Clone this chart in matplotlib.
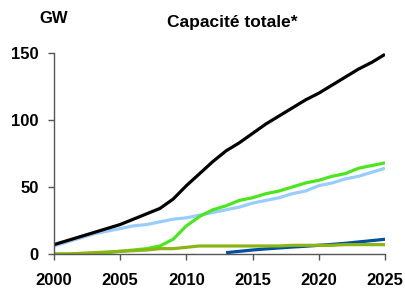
import numpy as np
from matplotlib import pyplot as plt

plt.rcParams['font.family'] = ['Liberation Sans', 'DejaVu Sans']
plt.rcParams['font.weight'] = 'bold'

years = np.arange(2000, 2026)

total = [7, 10, 13, 16, 19, 22, 26, 30, 34, 41, 51, 60, 69, 77, 83, 90,
         97, 103, 109, 115, 120, 126, 132, 138, 143, 149]
light_blue = [6, 9, 12, 15, 17, 19, 21, 22, 24, 26, 27, 29, 31, 33, 35, 38,
              40, 42, 45, 47, 51, 53, 56, 58, 61, 64]
bright_green = [0, 0, 0, 0.5, 1, 2, 3, 4, 6, 11, 21, 28, 33, 36, 40, 42,
                45, 47, 50, 53, 55, 58, 60, 64, 66, 68]
olive = [0, 0, 0.5, 1, 1.5, 2, 2.5, 3, 4, 4, 5, 6, 6, 6, 6, 6,
         6, 6, 6.5, 6.5, 6.5, 6.5, 7, 7, 7, 7]
blue_years = np.arange(2013, 2026)
dark_blue = [1, 2, 3, 3.8, 4.5, 5.2, 5.8, 6.5, 7.2, 8, 9, 10, 11]

fig = plt.figure(figsize=(4.05, 2.88), dpi=100)
ax = fig.add_axes([0.1333, 0.118, 0.8173, 0.698])

lw = 2.3
ax.plot(years, light_blue, color="#99CCFF", lw=lw, solid_capstyle="butt")
ax.plot(years, bright_green, color="#4CE61E", lw=lw, solid_capstyle="butt")
ax.plot(blue_years, dark_blue, color="#0050A0", lw=lw, solid_capstyle="butt")
ax.plot(years, olive, color="#8CB414", lw=lw, solid_capstyle="butt")
ax.plot(years, total, color="black", lw=lw, solid_capstyle="butt")

ax.set_xlim(2000, 2025)
ax.set_ylim(0, 150)
ax.set_xticks([2000, 2005, 2010, 2015, 2020, 2025])
ax.set_yticks([0, 50, 100, 150])
for s in ["top", "right"]:
    ax.spines[s].set_visible(False)
for s in ["left", "bottom"]:
    ax.spines[s].set_color("#555555")
    ax.spines[s].set_linewidth(1.0)
ax.tick_params(axis="both", colors="#555555", labelcolor="black",
               labelsize=12, length=4.3, width=1.0)
ax.tick_params(axis="y", pad=6.5)
ax.tick_params(axis="x", pad=9.5)
for lab in ax.get_xticklabels() + ax.get_yticklabels():
    lab.set_fontweight("bold")

fig.text(0.133, 0.920, "GW", ha="center", va="baseline", fontsize=12, fontweight="bold")
fig.text(0.573, 0.907, "Capacité totale*", ha="center", va="baseline",
         fontsize=12.5, fontweight="bold")

fig.savefig("out.png", dpi=100)
